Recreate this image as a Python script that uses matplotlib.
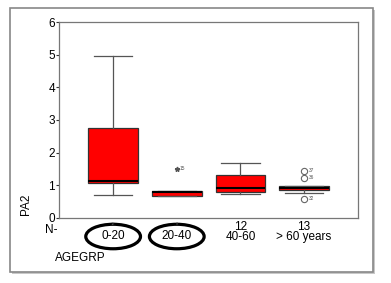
import matplotlib
matplotlib.use("Agg")
import matplotlib.pyplot as plt
from matplotlib.patches import Ellipse, Rectangle

# box statistics
groups = ["0-20", "20-40", "40-60", "> 60 years"]
counts = ["12", "8", "12", "13"]
whislo = [0.70, 0.68, 0.73, 0.77]
q1 = [1.07, 0.68, 0.79, 0.86]
med = [1.13, 0.78, 0.92, 0.92]
q3 = [2.76, 0.83, 1.31, 0.98]
whishi = [4.95, 0.83, 1.68, 0.98]
fliers = [[], [], [], [1.44, 1.23, 0.58]]
flier_ids = [[], [], [], ["37", "36", "32"]]
extremes = [[], [1.50], [], []]
extreme_ids = [[], ["15"], [], []]

plt.rcParams["font.family"] = ["Liberation Sans", "DejaVu Sans"]
plt.rcParams["font.size"] = 7.5

fig = plt.figure(figsize=(3.91, 2.83), dpi=100)
ax = fig.add_axes([0.151, 0.230, 0.765, 0.692])

stats = []
for i in range(len(groups)):
    stats.append(dict(whislo=whislo[i], q1=q1[i], med=med[i], q3=q3[i],
                      whishi=whishi[i], fliers=fliers[i]))

pos = [1, 2, 3, 4]
ax.bxp(stats, positions=pos, widths=0.78, patch_artist=True,
       boxprops=dict(facecolor="#ff0000", edgecolor="#333333", linewidth=0.9),
       medianprops=dict(color="black", linewidth=1.5),
       whiskerprops=dict(color="#555555", linewidth=0.9),
       capprops=dict(color="#555555", linewidth=0.9),
       capwidths=0.6,
       flierprops=dict(marker="o", markerfacecolor="white", markeredgecolor="#666666",
                       markersize=4.5, markeredgewidth=0.8))

for i in range(len(groups)):
    for v, lab in zip(fliers[i], flier_ids[i]):
        ax.text(pos[i] + 0.07, v, lab, fontsize=3.5, color="#555555", va="center")
    for v, lab in zip(extremes[i], extreme_ids[i]):
        ax.plot(pos[i], v, marker="*", color="#555555", markersize=3.5)
        ax.text(pos[i] + 0.05, v, lab, fontsize=3.5, color="#555555", va="center")

ax.set_xlim(0.15, 4.85)
ax.set_ylim(0, 6)
ax.set_yticks(range(7))
ax.tick_params(axis="y", length=2, pad=1, colors="#333333", labelcolor="black", labelsize=8.5)
ax.set_xticks(pos)
ax.set_xticklabels([])
ax.tick_params(axis="x", length=0)
for s in ax.spines.values():
    s.set_color("#777777")
    s.set_linewidth(0.9)
ax.set_ylabel("PA2", fontsize=8.5, labelpad=0)
ax.yaxis.set_label_coords(-0.09, 0.07)

# N counts and group labels
trans = ax.get_xaxis_transform()
ax.text(-0.005, -0.062, "N-", transform=ax.transAxes, ha="right", va="center", fontsize=8.5)
for i in range(len(groups)):
    if i < 2:
        ax.text(pos[i], -0.03, counts[i], transform=trans, ha="center", va="center",
                fontsize=3, color="#555555")
        ax.text(pos[i], -0.092, groups[i], transform=trans, ha="center", va="center", fontsize=8.5)
        ax.add_patch(Ellipse((pos[i], -0.095), 0.86, 0.125, transform=trans,
                             fill=False, edgecolor="black", linewidth=2.3, clip_on=False))
    else:
        ax.text(pos[i], -0.045, counts[i], transform=trans, ha="center", va="center", fontsize=8.5)
        ax.text(pos[i], -0.1, groups[i], transform=trans, ha="center", va="center", fontsize=8.5)

fig.text(55 / 391, 1 - 258 / 283, "AGEGRP", ha="left", va="center", fontsize=8.5)

# outer frame with a shadow
fig.patches.append(Rectangle((12 / 391, 1 - 274 / 283), 363 / 391, 264 / 283,
                             transform=fig.transFigure, fill=True, facecolor="#c8c8c8",
                             edgecolor="none", zorder=-2))
fig.patches.append(Rectangle((10 / 391, 1 - 272 / 283), 363 / 391, 264 / 283,
                             transform=fig.transFigure, facecolor="white",
                             edgecolor="#888888", linewidth=1.2, zorder=-1))

fig.savefig("out.png", dpi=100)
